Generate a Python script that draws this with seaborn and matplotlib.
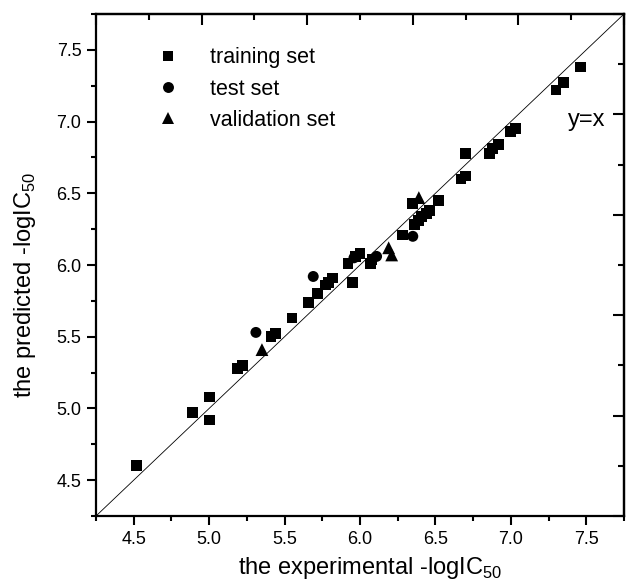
import numpy as np
import pandas as pd
import matplotlib
matplotlib.use("Agg")
import matplotlib.pyplot as plt
import seaborn as sns

# --------------------------
# data
# --------------------------
train_exp = [4.52, 4.89, 5.00, 5.00, 5.19, 5.22, 5.41, 5.44, 5.55, 5.66,
             5.72, 5.77, 5.79, 5.82, 5.95, 5.92, 5.97, 6.00, 6.07, 6.08,
             6.28, 6.35, 6.36, 6.39, 6.41, 6.44, 6.46, 6.52, 6.67, 6.70,
             6.70, 6.86, 6.88, 6.92, 7.00, 7.03, 7.30, 7.35, 7.46]
train_pred = [4.60, 4.97, 5.08, 4.92, 5.28, 5.30, 5.50, 5.52, 5.63, 5.74,
              5.80, 5.86, 5.88, 5.91, 5.88, 6.01, 6.06, 6.08, 6.01, 6.04,
              6.21, 6.43, 6.28, 6.31, 6.34, 6.36, 6.38, 6.45, 6.60, 6.62,
              6.78, 6.78, 6.81, 6.84, 6.93, 6.95, 7.22, 7.27, 7.38]

test_exp = [5.31, 5.69, 5.96, 6.11, 6.35]
test_pred = [5.53, 5.92, 6.05, 6.06, 6.20]

valid_exp = [5.35, 6.19, 6.21, 6.39]
valid_pred = [5.41, 6.12, 6.07, 6.47]

set_names = ["training set", "test set", "validation set"]

df = pd.DataFrame({
    "exp": train_exp + test_exp + valid_exp,
    "pred": train_pred + test_pred + valid_pred,
    "set": [set_names[0]] * len(train_exp) + [set_names[1]] * len(test_exp)
           + [set_names[2]] * len(valid_exp),
})

# --------------------------
# style
# --------------------------
sns.set_style("ticks")
plt.rcParams["font.family"] = ["Liberation Sans", "DejaVu Sans"]
plt.rcParams["mathtext.fontset"] = "custom"
plt.rcParams["mathtext.rm"] = "Liberation Sans"
plt.rcParams["text.color"] = "black"
plt.rcParams["axes.labelcolor"] = "black"
plt.rcParams["xtick.color"] = "black"
plt.rcParams["ytick.color"] = "black"

fig = plt.figure(figsize=(6.26, 5.82), dpi=100)
ax = fig.add_axes([96 / 626, 66 / 582, 528 / 626, 502 / 582])

sns.scatterplot(data=df, x="exp", y="pred", style="set", size="set",
                markers={"training set": "s", "test set": "o", "validation set": "^"},
                sizes={"training set": 60, "test set": 62, "validation set": 85},
                color="black", linewidth=0, ax=ax, legend=True)

ax.axline((4.25, 4.25), slope=1, color="black", lw=0.6)
ax.text(7.50, 7.01, "y=x", fontsize=17, ha="center", va="center")

ax.set_xlim(4.25, 7.75)
ax.set_ylim(4.25, 7.75)
ax.set_xticks(np.arange(4.5, 7.6, 0.5))
ax.set_yticks(np.arange(4.5, 7.6, 0.5))
ax.set_xticks(np.arange(4.25, 7.8, 0.5), minor=True)
ax.set_yticks(np.arange(4.25, 7.8, 0.5), minor=True)
ax.tick_params(which="major", direction="out", length=6.5, width=1.5,
               labelsize=13, pad=4, color="black", labelcolor="black")
ax.tick_params(which="minor", direction="out", length=3.5, width=1.5, color="black")
for sp in ax.spines.values():
    sp.set_visible(True)
    sp.set_linewidth(1.6)
    sp.set_color("black")

# top and right axes with their own tick spacing
top = ax.secondary_xaxis("top")
right = ax.secondary_yaxis("right")
sec_major = np.arange(4.25, 7.8, 0.7)
sec_minor = np.arange(4.60, 7.8, 0.7)
for sec in (top, right):
    sec.set_ticks(sec_major, labels=[""] * len(sec_major))
    sec.set_ticks(sec_minor, labels=[""] * len(sec_minor), minor=True)
    sec.tick_params(which="major", direction="in", length=8, width=1.5, color="black")
    sec.tick_params(which="minor", direction="in", length=4, width=1.5, color="black")
    for sp in sec.spines.values():
        sp.set_linewidth(1.6)
        sp.set_color("black")

ax.set_xlabel("the experimental -logIC$_{50}$", fontsize=17)
ax.set_ylabel("the predicted -logIC$_{50}$", fontsize=17)
ax.xaxis.set_label_coords(0.52, -0.077)
ax.yaxis.set_label_coords(-0.11, 0.46)

leg = ax.legend(loc="upper left", bbox_to_anchor=(0.095, 0.955), frameon=False,
                fontsize=15.5, handlelength=1, handletextpad=1.45,
                labelspacing=0.48, borderpad=0)

fig.savefig("out.png", dpi=100)
